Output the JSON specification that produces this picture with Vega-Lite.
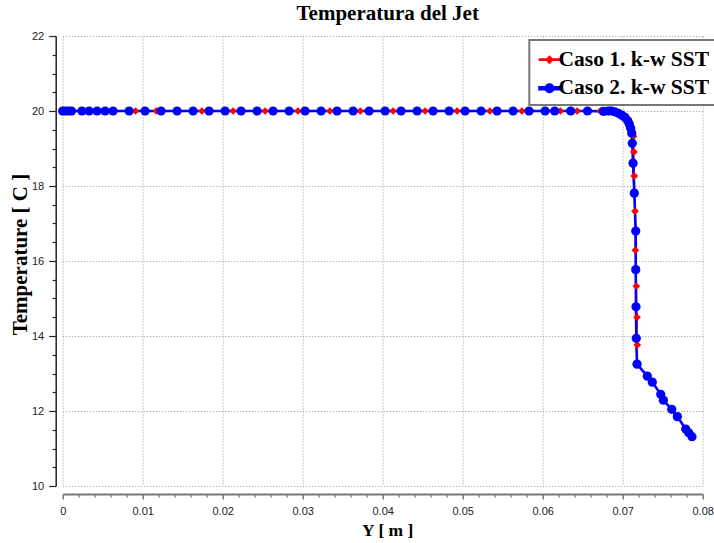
{
  "$schema": "https://vega.github.io/schema/vega-lite/v6.json",
  "width": 640,
  "height": 450,
  "autosize": {"type": "none"},
  "padding": {"left": 62.7, "top": 36, "right": 11.3, "bottom": 57},
  "background": "white",
  "title": {"text": "Temperatura del Jet", "font": "Liberation Serif", "fontSize": 21, "fontWeight": "bold", "color": "black", "anchor": "middle", "frame": "group", "offset": 6, "dx": 5},
  "datasets": {
    "pts": [
      {"s": "Caso 1. k-w SST", "i": 0, "x": 0.0003, "t": 20},
      {"s": "Caso 1. k-w SST", "i": 1, "x": 0.0007, "t": 20},
      {"s": "Caso 1. k-w SST", "i": 2, "x": 0.0011, "t": 20},
      {"s": "Caso 1. k-w SST", "i": 3, "x": 0.0033, "t": 20},
      {"s": "Caso 1. k-w SST", "i": 4, "x": 0.0053, "t": 20},
      {"s": "Caso 1. k-w SST", "i": 5, "x": 0.0063, "t": 20},
      {"s": "Caso 1. k-w SST", "i": 6, "x": 0.0091, "t": 20},
      {"s": "Caso 1. k-w SST", "i": 7, "x": 0.0117, "t": 20},
      {"s": "Caso 1. k-w SST", "i": 8, "x": 0.0143, "t": 20},
      {"s": "Caso 1. k-w SST", "i": 9, "x": 0.0174, "t": 20},
      {"s": "Caso 1. k-w SST", "i": 10, "x": 0.0213, "t": 20},
      {"s": "Caso 1. k-w SST", "i": 11, "x": 0.0253, "t": 20},
      {"s": "Caso 1. k-w SST", "i": 12, "x": 0.0294, "t": 20},
      {"s": "Caso 1. k-w SST", "i": 13, "x": 0.0334, "t": 20},
      {"s": "Caso 1. k-w SST", "i": 14, "x": 0.0372, "t": 20},
      {"s": "Caso 1. k-w SST", "i": 15, "x": 0.0413, "t": 20},
      {"s": "Caso 1. k-w SST", "i": 16, "x": 0.0453, "t": 20},
      {"s": "Caso 1. k-w SST", "i": 17, "x": 0.0493, "t": 20},
      {"s": "Caso 1. k-w SST", "i": 18, "x": 0.0534, "t": 20},
      {"s": "Caso 1. k-w SST", "i": 19, "x": 0.0574, "t": 20},
      {"s": "Caso 1. k-w SST", "i": 20, "x": 0.0622, "t": 20},
      {"s": "Caso 1. k-w SST", "i": 21, "x": 0.0643, "t": 20},
      {"s": "Caso 1. k-w SST", "i": 22, "x": 0.0672, "t": 20},
      {"s": "Caso 1. k-w SST", "i": 23, "x": 0.0681, "t": 19.99},
      {"s": "Caso 1. k-w SST", "i": 24, "x": 0.0695, "t": 19.93},
      {"s": "Caso 1. k-w SST", "i": 25, "x": 0.0706, "t": 19.75},
      {"s": "Caso 1. k-w SST", "i": 26, "x": 0.07135, "t": 19.33},
      {"s": "Caso 1. k-w SST", "i": 27, "x": 0.0714, "t": 18.91},
      {"s": "Caso 1. k-w SST", "i": 28, "x": 0.07145, "t": 18.27},
      {"s": "Caso 1. k-w SST", "i": 29, "x": 0.07154, "t": 17.33},
      {"s": "Caso 1. k-w SST", "i": 30, "x": 0.07158, "t": 16.29},
      {"s": "Caso 1. k-w SST", "i": 31, "x": 0.0717, "t": 15.33},
      {"s": "Caso 1. k-w SST", "i": 32, "x": 0.07179, "t": 14.5},
      {"s": "Caso 1. k-w SST", "i": 33, "x": 0.07182, "t": 13.76},
      {"s": "Caso 2. k-w SST", "i": 0, "x": 0.0, "t": 20},
      {"s": "Caso 2. k-w SST", "i": 1, "x": 0.0003, "t": 20},
      {"s": "Caso 2. k-w SST", "i": 2, "x": 0.0007, "t": 20},
      {"s": "Caso 2. k-w SST", "i": 3, "x": 0.0011, "t": 20},
      {"s": "Caso 2. k-w SST", "i": 4, "x": 0.0024, "t": 20},
      {"s": "Caso 2. k-w SST", "i": 5, "x": 0.0033, "t": 20},
      {"s": "Caso 2. k-w SST", "i": 6, "x": 0.0043, "t": 20},
      {"s": "Caso 2. k-w SST", "i": 7, "x": 0.0053, "t": 20},
      {"s": "Caso 2. k-w SST", "i": 8, "x": 0.0063, "t": 20},
      {"s": "Caso 2. k-w SST", "i": 9, "x": 0.0083, "t": 20},
      {"s": "Caso 2. k-w SST", "i": 10, "x": 0.0103, "t": 20},
      {"s": "Caso 2. k-w SST", "i": 11, "x": 0.0123, "t": 20},
      {"s": "Caso 2. k-w SST", "i": 12, "x": 0.0143, "t": 20},
      {"s": "Caso 2. k-w SST", "i": 13, "x": 0.0163, "t": 20},
      {"s": "Caso 2. k-w SST", "i": 14, "x": 0.0183, "t": 20},
      {"s": "Caso 2. k-w SST", "i": 15, "x": 0.0203, "t": 20},
      {"s": "Caso 2. k-w SST", "i": 16, "x": 0.0223, "t": 20},
      {"s": "Caso 2. k-w SST", "i": 17, "x": 0.0243, "t": 20},
      {"s": "Caso 2. k-w SST", "i": 18, "x": 0.0263, "t": 20},
      {"s": "Caso 2. k-w SST", "i": 19, "x": 0.0283, "t": 20},
      {"s": "Caso 2. k-w SST", "i": 20, "x": 0.0303, "t": 20},
      {"s": "Caso 2. k-w SST", "i": 21, "x": 0.0323, "t": 20},
      {"s": "Caso 2. k-w SST", "i": 22, "x": 0.0343, "t": 20},
      {"s": "Caso 2. k-w SST", "i": 23, "x": 0.0363, "t": 20},
      {"s": "Caso 2. k-w SST", "i": 24, "x": 0.0383, "t": 20},
      {"s": "Caso 2. k-w SST", "i": 25, "x": 0.0403, "t": 20},
      {"s": "Caso 2. k-w SST", "i": 26, "x": 0.0423, "t": 20},
      {"s": "Caso 2. k-w SST", "i": 27, "x": 0.0443, "t": 20},
      {"s": "Caso 2. k-w SST", "i": 28, "x": 0.0463, "t": 20},
      {"s": "Caso 2. k-w SST", "i": 29, "x": 0.0483, "t": 20},
      {"s": "Caso 2. k-w SST", "i": 30, "x": 0.0503, "t": 20},
      {"s": "Caso 2. k-w SST", "i": 31, "x": 0.0523, "t": 20},
      {"s": "Caso 2. k-w SST", "i": 32, "x": 0.0543, "t": 20},
      {"s": "Caso 2. k-w SST", "i": 33, "x": 0.0563, "t": 20},
      {"s": "Caso 2. k-w SST", "i": 34, "x": 0.0583, "t": 20},
      {"s": "Caso 2. k-w SST", "i": 35, "x": 0.0603, "t": 20},
      {"s": "Caso 2. k-w SST", "i": 36, "x": 0.0615, "t": 20},
      {"s": "Caso 2. k-w SST", "i": 37, "x": 0.0635, "t": 20},
      {"s": "Caso 2. k-w SST", "i": 38, "x": 0.0656, "t": 20},
      {"s": "Caso 2. k-w SST", "i": 39, "x": 0.0676, "t": 19.99},
      {"s": "Caso 2. k-w SST", "i": 40, "x": 0.0682, "t": 20},
      {"s": "Caso 2. k-w SST", "i": 41, "x": 0.0686, "t": 20},
      {"s": "Caso 2. k-w SST", "i": 42, "x": 0.069, "t": 19.98},
      {"s": "Caso 2. k-w SST", "i": 43, "x": 0.06945, "t": 19.94},
      {"s": "Caso 2. k-w SST", "i": 44, "x": 0.06988, "t": 19.89},
      {"s": "Caso 2. k-w SST", "i": 45, "x": 0.07029, "t": 19.83},
      {"s": "Caso 2. k-w SST", "i": 46, "x": 0.07063, "t": 19.74},
      {"s": "Caso 2. k-w SST", "i": 47, "x": 0.07083, "t": 19.65},
      {"s": "Caso 2. k-w SST", "i": 48, "x": 0.071, "t": 19.54},
      {"s": "Caso 2. k-w SST", "i": 49, "x": 0.07113, "t": 19.41},
      {"s": "Caso 2. k-w SST", "i": 50, "x": 0.0712, "t": 19.14},
      {"s": "Caso 2. k-w SST", "i": 51, "x": 0.07129, "t": 18.61},
      {"s": "Caso 2. k-w SST", "i": 52, "x": 0.07145, "t": 17.81},
      {"s": "Caso 2. k-w SST", "i": 53, "x": 0.07163, "t": 16.8},
      {"s": "Caso 2. k-w SST", "i": 54, "x": 0.07163, "t": 15.77},
      {"s": "Caso 2. k-w SST", "i": 55, "x": 0.07166, "t": 14.78},
      {"s": "Caso 2. k-w SST", "i": 56, "x": 0.0717, "t": 13.94},
      {"s": "Caso 2. k-w SST", "i": 57, "x": 0.07179, "t": 13.25},
      {"s": "Caso 2. k-w SST", "i": 58, "x": 0.07308, "t": 12.93},
      {"s": "Caso 2. k-w SST", "i": 59, "x": 0.0737, "t": 12.77},
      {"s": "Caso 2. k-w SST", "i": 60, "x": 0.07475, "t": 12.445},
      {"s": "Caso 2. k-w SST", "i": 61, "x": 0.07508, "t": 12.29},
      {"s": "Caso 2. k-w SST", "i": 62, "x": 0.07613, "t": 12.045},
      {"s": "Caso 2. k-w SST", "i": 63, "x": 0.07683, "t": 11.85},
      {"s": "Caso 2. k-w SST", "i": 64, "x": 0.07788, "t": 11.52},
      {"s": "Caso 2. k-w SST", "i": 65, "x": 0.07825, "t": 11.42},
      {"s": "Caso 2. k-w SST", "i": 66, "x": 0.07866, "t": 11.315}
    ]
  },
  "data": {"name": "pts"},
  "layer": [
    {
      "mark": {"type": "line", "strokeCap": "round", "strokeJoin": "round"},
      "encoding": {
        "x": {"field": "x", "type": "quantitative", "scale": {"domain": [0, 0.08], "nice": false, "zero": false},
          "axis": {"orient": "bottom", "offset": 8, "values": [0, 0.01, 0.02, 0.03, 0.04, 0.05, 0.06, 0.07, 0.08], "format": "~g",
            "domainColor": "#777", "domainWidth": 2, "tickColor": "#777", "tickWidth": 1.5, "tickSize": 5,
            "labelFont": "Liberation Sans", "labelFontSize": 11, "labelColor": "#222", "labelPadding": 6, "labelFlush": false, "labelOverlap": false,
            "grid": true, "gridColor": "#999", "gridDash": [1, 2], "gridWidth": 1,
            "title": "Y [ m ]", "titleFont": "Liberation Serif", "titleFontSize": 17.5, "titleFontWeight": "bold", "titleColor": "black", "titlePadding": 5, "titleX": 324.5}},
        "y": {"field": "t", "type": "quantitative", "scale": {"domain": [10, 22], "nice": false, "zero": false},
          "axis": {"orient": "left", "offset": 7, "values": [10, 12, 14, 16, 18, 20, 22], "format": "d",
            "domainColor": "#222", "domainWidth": 1.5, "tickColor": "#222", "tickWidth": 1.2, "tickSize": 7,
            "labelFont": "Liberation Sans", "labelFontSize": 11, "labelColor": "#222", "labelPadding": 5, "labelFlush": false, "labelOverlap": false,
            "grid": true, "gridColor": "#999", "gridDash": [1, 2], "gridWidth": 1,
            "title": "Temperature [ C ]", "titleFont": "Liberation Serif", "titleFontSize": 21, "titleFontWeight": "bold", "titleColor": "black", "titlePadding": 1, "titleY": 218}},
        "color": {"field": "s", "type": "nominal", "scale": {"domain": ["Caso 1. k-w SST", "Caso 2. k-w SST"], "range": ["#ff0000", "#0000ff"]},
          "legend": {"orient": "none", "legendX": 466.6, "legendY": 4, "title": null, "padding": 6.2, "strokeColor": "#777", "fillColor": "white", "cornerRadius": 0,
            "labelFont": "Liberation Serif", "labelFontSize": 21.5, "labelFontWeight": "bold", "labelColor": "black", "labelOffset": -5, "labelLimit": 400,
            "symbolSize": 625, "rowPadding": 4, "symbolStrokeWidth": 0, "symbolOpacity": 1,
            "encode": {"legend": {"update": {"strokeWidth": {"value": 2}}}}}},
        "strokeWidth": {"field": "s", "type": "nominal", "scale": {"domain": ["Caso 1. k-w SST", "Caso 2. k-w SST"], "range": [1.5, 2.6]}, "legend": null},
        "order": {"field": "i", "type": "quantitative"}
      }
    },
    {
      "transform": [{"filter": "datum.s === 'Caso 1. k-w SST'"}],
      "mark": {"type": "point", "shape": "diamond", "filled": true, "opacity": 1, "strokeWidth": 0, "size": 60, "color": "#ff0000"},
      "encoding": {
        "x": {"field": "x", "type": "quantitative",
          "axis": {"orient": "bottom", "offset": 8, "values": [0.002, 0.004, 0.006, 0.008, 0.012, 0.014, 0.016, 0.018, 0.022, 0.024, 0.026, 0.028, 0.032, 0.034, 0.036, 0.038, 0.042, 0.044, 0.046, 0.048, 0.052, 0.054, 0.056, 0.058, 0.062, 0.064, 0.066, 0.068, 0.072, 0.074, 0.076, 0.078],
            "domain": false, "labels": false, "grid": false, "title": null, "tickColor": "#777", "tickWidth": 1.2, "tickSize": 3}},
        "y": {"field": "t", "type": "quantitative",
          "axis": {"orient": "left", "offset": 7, "values": [10.5, 11, 11.5, 12.5, 13, 13.5, 14.5, 15, 15.5, 16.5, 17, 17.5, 18.5, 19, 19.5, 20.5, 21, 21.5],
            "domain": false, "labels": false, "grid": false, "title": null, "tickColor": "#222", "tickWidth": 1.2, "tickSize": 3.5}}
      }
    },
    {
      "transform": [{"filter": "datum.s === 'Caso 2. k-w SST'"}],
      "mark": {"type": "point", "shape": "circle", "filled": true, "opacity": 1, "strokeWidth": 0, "size": 85, "color": "#0000ff"},
      "encoding": {
        "x": {"field": "x", "type": "quantitative", "axis": null},
        "y": {"field": "t", "type": "quantitative", "axis": null}
      }
    },
    {
      "transform": [{"filter": "false"}],
      "mark": {"type": "point", "filled": true, "opacity": 1, "strokeWidth": 0, "size": 625},
      "encoding": {
        "x": {"field": "x", "type": "quantitative", "axis": null},
        "y": {"field": "t", "type": "quantitative", "axis": null},
        "color": {"field": "s", "type": "nominal",
          "legend": {"orient": "none", "legendX": 466.6, "legendY": 4, "title": null, "padding": 6.2, "strokeColor": "#777", "fillColor": "white", "cornerRadius": 0,
            "labelFont": "Liberation Serif", "labelFontSize": 21.5, "labelFontWeight": "bold", "labelColor": "black", "labelOffset": -5, "labelLimit": 400,
            "symbolSize": 625, "rowPadding": 4, "symbolStrokeWidth": 0, "symbolOpacity": 1,
            "encode": {"legend": {"update": {"strokeWidth": {"value": 2}}}}}},
        "shape": {"field": "s", "type": "nominal", "scale": {"domain": ["Caso 1. k-w SST", "Caso 2. k-w SST"],
          "range": ["M-0.8,-0.05L0.8,-0.05L0.8,0.05L-0.8,0.05ZM0,-0.27L0.27,0L0,0.27L-0.27,0Z", "M-0.8,-0.08L0.8,-0.08L0.8,0.08L-0.8,0.08ZM0.3,0A0.3,0.3,0,1,1,-0.3,0A0.3,0.3,0,1,1,0.3,0Z"]}}
      }
    }
  ],
  "resolve": {"axis": {"x": "independent", "y": "independent"}},
  "config": {"view": {"stroke": null}, "axis": {"ticks": true}}
}
